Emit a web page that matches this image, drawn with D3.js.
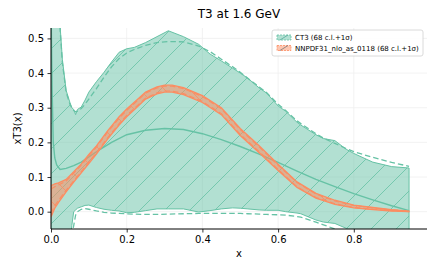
<!DOCTYPE html>
<html>
<head>
<meta charset="UTF-8">
<script src="https://cdn.jsdelivr.net/npm/d3@7"></script>
<style>
  body { margin: 0; background: #fff; }
  text { font-family: "DejaVu Sans", sans-serif; }
</style>
</head>
<body>
<div id="chart"></div>
<script>
// CT3 band (68 c.l. solid edges, 1 sigma dashed)
const ct3X = [0, 0.01, 0.02, 0.025, 0.03, 0.04, 0.05, 0.055, 0.06, 0.065, 0.07, 0.08, 0.09, 0.1, 0.12, 0.14, 0.16, 0.18, 0.2, 0.22, 0.25, 0.28, 0.31, 0.35, 0.39, 0.42, 0.45, 0.48, 0.5, 0.52, 0.55, 0.57, 0.6, 0.62, 0.65, 0.66, 0.7, 0.72, 0.75, 0.78, 0.8, 0.85, 0.9, 0.946];
const ct3Hi = [0.95, 0.78, 0.6, 0.52, 0.44, 0.35, 0.315, 0.3, 0.295, 0.28, 0.295, 0.302, 0.322, 0.345, 0.375, 0.402, 0.432, 0.46, 0.47, 0.474, 0.488, 0.505, 0.522, 0.505, 0.483, 0.455, 0.435, 0.414, 0.4, 0.385, 0.357, 0.342, 0.305, 0.29, 0.258, 0.25, 0.222, 0.211, 0.205, 0.18, 0.168, 0.143, 0.13, 0.126];
const ct3Lo = [-0.3, -0.3, -0.25, -0.22, -0.2, -0.15, -0.09, -0.04, 0.0, 0.005, 0.01, 0.014, 0.018, 0.019, 0.012, 0.007, 0.004, 0.002, -0.003, -0.002, 0.003, 0.008, 0.008, 0.008, -0.001, 0.003, 0.008, 0.011, 0.01, 0.008, 0.005, 0.004, 0.004, 0.0, -0.004, -0.006, -0.024, -0.03, -0.034, -0.048, -0.06, -0.085, -0.11, -0.12];
const ct3SigHi = [0.95, 0.78, 0.6, 0.51, 0.43, 0.345, 0.31, 0.3, 0.292, 0.288, 0.29, 0.298, 0.31, 0.325, 0.355, 0.388, 0.418, 0.442, 0.458, 0.468, 0.48, 0.488, 0.491, 0.49, 0.478, 0.462, 0.44, 0.418, 0.402, 0.385, 0.36, 0.343, 0.31, 0.292, 0.262, 0.254, 0.225, 0.212, 0.197, 0.182, 0.173, 0.157, 0.142, 0.131];
const ct3SigLo = [-0.3, -0.3, -0.26, -0.24, -0.22, -0.17, -0.12, -0.07, -0.04, -0.01, 0.0, 0.007, 0.009, 0.007, 0.002, -0.002, -0.004, -0.005, -0.006, -0.007, -0.008, -0.008, -0.007, -0.006, -0.005, -0.005, -0.005, -0.005, -0.005, -0.006, -0.007, -0.008, -0.009, -0.01, -0.014, -0.016, -0.03, -0.038, -0.05, -0.06, -0.068, -0.09, -0.112, -0.125];

// CT3 central value
const ct3MidX = [0, 0.003, 0.006, 0.01, 0.015, 0.024, 0.04, 0.06, 0.08, 0.1, 0.13, 0.16, 0.2, 0.25, 0.3, 0.35, 0.4, 0.45, 0.5, 0.55, 0.6, 0.65, 0.7, 0.75, 0.8, 0.85, 0.9, 0.946];
const ct3Mid = [0.6, 0.35, 0.2, 0.155, 0.135, 0.122, 0.125, 0.133, 0.143, 0.158, 0.18, 0.2, 0.222, 0.235, 0.24, 0.237, 0.225, 0.208, 0.188, 0.166, 0.142, 0.117, 0.093, 0.072, 0.052, 0.034, 0.017, 0.003];

// NNPDF31_nlo_as_0118 band
const nnX = [0, 0.01, 0.02, 0.04, 0.06, 0.08, 0.1, 0.12, 0.15, 0.18, 0.2, 0.22, 0.25, 0.28, 0.3, 0.32, 0.35, 0.4, 0.45, 0.5, 0.55, 0.6, 0.65, 0.7, 0.75, 0.8, 0.85, 0.9, 0.946];
const nnHi = [0.075, 0.08, 0.083, 0.093, 0.115, 0.138, 0.165, 0.19, 0.234, 0.274, 0.296, 0.316, 0.345, 0.36, 0.365, 0.365, 0.358, 0.335, 0.3, 0.24, 0.19, 0.137, 0.086, 0.053, 0.033, 0.019, 0.012, 0.006, 0.002];
const nnLo = [-0.015, 0.01, 0.027, 0.057, 0.085, 0.112, 0.139, 0.166, 0.21, 0.25, 0.274, 0.294, 0.325, 0.34, 0.345, 0.345, 0.338, 0.315, 0.28, 0.22, 0.17, 0.119, 0.07, 0.039, 0.021, 0.011, 0.006, 0.002, 0.0];
const nnSigHi = [0.065, 0.072, 0.077, 0.088, 0.111, 0.134, 0.161, 0.186, 0.23, 0.27, 0.292, 0.312, 0.342, 0.357, 0.362, 0.362, 0.355, 0.332, 0.297, 0.237, 0.187, 0.134, 0.084, 0.051, 0.031, 0.018, 0.011, 0.005, 0.002];
const nnSigLo = [-0.005, 0.018, 0.033, 0.062, 0.089, 0.116, 0.143, 0.17, 0.214, 0.254, 0.278, 0.298, 0.328, 0.343, 0.348, 0.348, 0.341, 0.318, 0.283, 0.223, 0.173, 0.122, 0.072, 0.041, 0.023, 0.012, 0.007, 0.003, 0.0];

const xTicks = [0, 0.2, 0.4, 0.6, 0.8];
const yTicks = [0, 0.1, 0.2, 0.3, 0.4, 0.5];
const legendLabels = ["CT3 (68 c.l.+1σ)", "NNPDF31_nlo_as_0118 (68 c.l.+1σ)"];

const green = "#66c2a5", orange = "#fc8d62";
const W = 443, H = 272;
const m = { left: 51, right: 16, top: 28, bottom: 43 };

const svg = d3.select("#chart").append("svg")
  .attr("width", W).attr("height", H);

const x = d3.scaleLinear().domain([0, 0.9934]).range([m.left, W - m.right]);
const y = d3.scaleLinear().domain([-0.05, 0.53]).range([H - m.bottom, m.top]);

const defs = svg.append("defs");
defs.append("clipPath").attr("id", "plot")
  .append("rect")
  .attr("x", m.left).attr("y", m.top)
  .attr("width", W - m.left - m.right).attr("height", H - m.top - m.bottom);

// hatch patterns
function hatch(id, color, dir) {
  const s = 25;
  const p = defs.append("pattern").attr("id", id)
    .attr("patternUnits", "userSpaceOnUse")
    .attr("width", s).attr("height", s);
  const segs = dir === "/"
    ? [[0, s, s, 0], [-2, 2, 2, -2], [s - 2, s + 2, s + 2, s - 2]]
    : [[0, 0, s, s], [-2, s - 2, 2, s + 2], [s - 2, -2, s + 2, 2]];
  segs.forEach(d => p.append("line")
    .attr("x1", d[0]).attr("y1", d[1]).attr("x2", d[2]).attr("y2", d[3])
    .attr("stroke", color).attr("stroke-width", 0.8));
}
hatch("hatchG", green, "/");
hatch("hatchO", orange, "\\");

// grid
const grid = svg.append("g").attr("stroke", "#efefef").attr("stroke-width", 0.8);
grid.selectAll(".gx").data(xTicks).enter().append("line")
  .attr("x1", d => x(d)).attr("x2", d => x(d))
  .attr("y1", m.top).attr("y2", H - m.bottom);
grid.selectAll(".gy").data(yTicks).enter().append("line")
  .attr("x1", m.left).attr("x2", W - m.right)
  .attr("y1", d => y(d)).attr("y2", d => y(d));

const plot = svg.append("g").attr("clip-path", "url(#plot)");

function band(xs, hi, lo, color, pat, op, sw) {
  const pts = xs.map((v, i) => [v, hi[i], lo[i]]);
  const area = d3.area().x(d => x(d[0])).y0(d => y(d[2])).y1(d => y(d[1]));
  plot.append("path").datum(pts).attr("d", area)
    .attr("fill", color).attr("fill-opacity", op)
    .attr("stroke", color).attr("stroke-width", sw);
  plot.append("path").datum(pts).attr("d", area)
    .attr("fill", `url(#${pat})`).attr("stroke", "none");
}
function curve(xs, ys, color, dash, w) {
  const line = d3.line().x(d => x(d[0])).y(d => y(d[1]));
  plot.append("path").datum(xs.map((v, i) => [v, ys[i]])).attr("d", line)
    .attr("fill", "none").attr("stroke", color)
    .attr("stroke-width", w || 1.3)
    .attr("stroke-dasharray", dash ? "5.5,3" : null);
}

band(ct3X, ct3Hi, ct3Lo, green, "hatchG", 0.5, 1);
curve(ct3X, ct3SigHi, green, true);
curve(ct3X, ct3SigLo, green, true);
curve(ct3MidX, ct3Mid, green, false, 1.4);

band(nnX, nnHi, nnLo, orange, "hatchO", 0.55, 1.3);
curve(nnX, nnSigHi, orange, true, 1.1);
curve(nnX, nnSigLo, orange, true, 1.1);

// axes
const xAxis = svg.append("g").attr("transform", `translate(0,${H - m.bottom})`)
  .call(d3.axisBottom(x).tickValues(xTicks).tickFormat(d3.format(".1f")).tickSize(3.5).tickPadding(3.5));
const yAxis = svg.append("g").attr("transform", `translate(${m.left},0)`)
  .call(d3.axisLeft(y).tickValues(yTicks).tickFormat(d3.format(".1f")).tickSize(3.5).tickPadding(3.5));
[xAxis, yAxis].forEach(a => {
  a.select(".domain").attr("stroke", "#000").attr("stroke-width", 1);
  a.selectAll(".tick line").attr("stroke", "#000").attr("stroke-width", 0.8);
  a.selectAll("text").attr("font-size", 10).attr("fill", "#000")
    .attr("font-family", "DejaVu Sans");
});
xAxis.select(".domain").attr("d", `M${m.left},0H${W - m.right}`);
yAxis.select(".domain").attr("d", `M0,${H - m.bottom}V${m.top}`);

const cx = (m.left + W - m.right) / 2;
svg.append("text").attr("x", cx).attr("y", 18).attr("text-anchor", "middle")
  .attr("font-size", 12).text("T3 at 1.6 GeV");
svg.append("text").attr("x", cx).attr("y", 257).attr("text-anchor", "middle")
  .attr("font-size", 10).text("x");
svg.append("text")
  .attr("transform", `translate(21,${(m.top + H - m.bottom) / 2}) rotate(-90)`)
  .attr("text-anchor", "middle").attr("font-size", 10).text("xT3(x)");

// legend
const lg = svg.append("g").attr("transform", "translate(272,30)");
lg.append("rect").attr("width", 151).attr("height", 26).attr("rx", 2)
  .attr("fill", "#fff").attr("fill-opacity", 0.85)
  .attr("stroke", "#d0d0d0").attr("stroke-width", 0.8);
[[green, "hatchG"], [orange, "hatchO"]].forEach((c, i) => {
  const gy = 5 + i * 10.5;
  const it = lg.append("g");
  it.append("rect").attr("x", 5).attr("y", gy).attr("width", 14).attr("height", 5)
    .attr("fill", c[0]).attr("fill-opacity", 0.5)
    .attr("stroke", c[0]).attr("stroke-width", 0.8).attr("stroke-dasharray", "2,1");
  it.append("line").attr("x1", 8).attr("x2", 16).attr("y1", gy + 5).attr("y2", gy)
    .attr("stroke", i ? "#777" : "#5a9").attr("stroke-width", 0.8);
  it.append("text").attr("x", 23).attr("y", gy + 5).attr("font-size", 7)
    .text(legendLabels[i]);
});
</script>
</body>
</html>
